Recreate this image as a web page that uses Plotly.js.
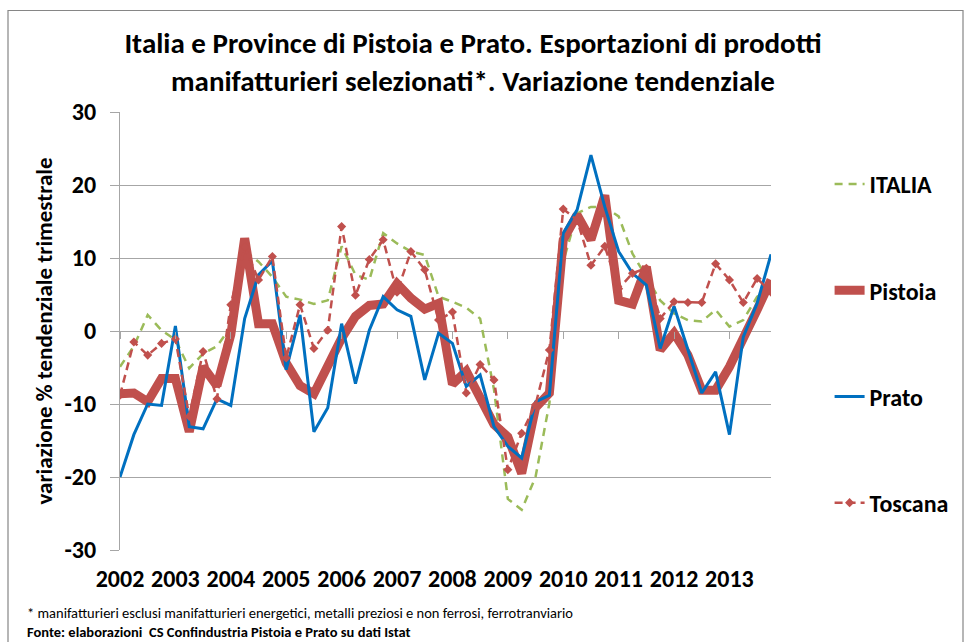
<!DOCTYPE html>
<html>
<head>
<meta charset="utf-8">
<script src="https://cdn.plot.ly/plotly-3.0.1.min.js"></script>
<style>
  html, body { margin: 0; padding: 0; background: #fff; }
  #chart { width: 972px; height: 642px; }
</style>
</head>
<body>
<div id="chart"></div>
<script>
// ---- data ----
const years = ['2002','2003','2004','2005','2006','2007','2008','2009','2010','2011','2012','2013'];
const quarterNames = ['I','II','III','IV'];
const quarters = [];
years.forEach(y => quarterNames.forEach(q => quarters.push(y + ' ' + q)));

const italia = [-4.9, -2.1, 2.2, 0.1, -1.2, -5.1, -3.1, -2.1, 0.6, 11.0, 9.5, 7.4,
                4.7, 4.3, 3.7, 4.2, 11.6, 7.7, 7.0, 13.4, 12.0, 10.9, 10.4, 4.7,
                4.0, 3.2, 1.7, -8.0, -23.0, -24.5, -20.0, -9.9, 9.5, 16.1, 17.0, 17.0,
                15.7, 10.6, 7.4, 4.2, 2.4, 1.5, 1.3, 2.9, 0.6, 1.5, 4.7, 5.6];
const pistoia = [-8.6, -8.5, -9.7, -6.5, -6.5, -13.8, -4.9, -7.5, -0.5, 12.7, 1.0, 1.0,
                 -4.4, -7.5, -8.6, -4.5, -1.0, 2.0, 3.5, 3.7, 6.5, 4.5, 3.0, 3.8,
                 -7.3, -5.5, -9.0, -12.8, -14.5, -19.5, -10.5, -8.5, 12.5, 15.9, 12.5, 18.6,
                 4.2, 3.7, 8.8, -2.6, -0.3, -3.3, -8.1, -8.1, -4.9, -1.2, 2.9, 7.0];
const prato = [-20.0, -14.2, -10.0, -10.2, 0.7, -13.1, -13.4, -9.3, -10.2, 1.7, 7.7, 9.6,
               -5.3, 2.2, -13.8, -10.5, 1.0, -7.2, 0.1, 4.7, 2.9, 2.0, -6.7, -0.3,
               -1.7, -7.6, -6.0, -13.1, -15.8, -17.4, -9.7, -8.8, 13.4, 16.6, 24.1, 17.0,
               10.9, 7.9, 6.3, -2.4, 3.4, -2.4, -8.5, -5.6, -14.2, -0.8, 3.8, 10.5];
const toscana = [-8.8, -1.5, -3.3, -1.7, -1.1, -11.7, -2.8, -9.3, 3.6, 11.5, 7.0, 10.2,
                 -3.7, 3.6, -2.4, 0.1, 14.3, 4.9, 9.8, 12.5, 5.3, 10.9, 8.4, 1.5,
                 2.6, -8.5, -4.6, -6.7, -19.0, -14.0, -10.1, -2.6, 16.7, 15.2, 9.0, 11.6,
                 5.8, 7.9, 8.6, 1.7, 4.0, 3.9, 3.9, 9.2, 7.0, 3.9, 7.2, 5.3];
const seriesNames = ['ITALIA', 'Pistoia', 'Prato', 'Toscana'];
const yTicks = [-30, -20, -10, 0, 10, 20, 30];
const yTickText = ['-30', '-20', '-10', '0', '10', '20', '30'];
const yearTickCats = years.map(y => y + ' I');

const FONT = 'Carlito, Lato, "Open Sans", sans-serif';
const RED = '#c0504d';

const traces = [
  { x: quarters, y: italia, name: seriesNames[0], type: 'scatter', mode: 'lines',
    line: { color: '#9bbb59', width: 2.5, dash: '8px,6px' }, legendgroup: 'a' },
  { x: quarters, y: pistoia, name: seriesNames[1], type: 'scatter', mode: 'lines',
    line: { color: RED, width: 9 }, legendgroup: 'b' },
  { x: quarters, y: prato, name: seriesNames[2], type: 'scatter', mode: 'lines',
    line: { color: '#0070c0', width: 3 }, legendgroup: 'c' },
  { x: quarters, y: toscana, name: seriesNames[3], type: 'scatter', mode: 'lines+markers',
    line: { color: RED, width: 2.5, dash: '8px,5px' },
    marker: { symbol: 'diamond', size: 7, color: RED }, legendgroup: 'd' },
  { x: [], y: [], xaxis: 'x2', type: 'scatter', mode: 'lines', showlegend: false, hoverinfo: 'skip' }
];

const layout = {
  width: 972, height: 642,
  margin: { l: 120, r: 201, t: 112, b: 92 },
  paper_bgcolor: '#ffffff', plot_bgcolor: '#ffffff',
  font: { family: FONT, color: '#000' },
  showlegend: true,
  title: {
    text: 'Italia e Province di Pistoia e Prato. Esportazioni di prodotti<br>manifatturieri selezionati*. Variazione tendenziale',
    font: { family: FONT, size: 29, color: '#000', weight: 'bold' },
    x: 473 / 972, xanchor: 'center', xref: 'container',
    y: 0.917, yanchor: 'top', yref: 'container'
  },
  xaxis: {
    type: 'category', categoryorder: 'array', categoryarray: quarters,
    range: [0, quarters.length - 1],
    tickmode: 'array', tickvals: yearTickCats, ticktext: years,
    showgrid: false, zeroline: false, showline: false,
    ticks: '', ticklabelstandoff: 12,
    tickfont: { family: FONT, size: 24, color: '#000', weight: 'bold' }
  },
  xaxis2: {
    type: 'category', categoryorder: 'array', categoryarray: quarters,
    matches: 'x', overlaying: 'x', anchor: 'free', position: 0.5, side: 'bottom',
    range: [0, quarters.length - 1],
    tickmode: 'array', tickvals: yearTickCats, ticktext: years,
    showticklabels: false, showgrid: false, zeroline: false, showline: false,
    ticks: 'outside', ticklen: 7, tickcolor: '#a6a6a6', tickwidth: 1
  },
  yaxis: {
    range: [-30, 30], tickmode: 'array', tickvals: yTicks, ticktext: yTickText,
    showgrid: true, gridcolor: '#a6a6a6', gridwidth: 1,
    zeroline: false, showline: true, linecolor: '#a6a6a6', linewidth: 1,
    ticks: 'outside', ticklen: 9, tickcolor: '#a6a6a6',
    ticklabelstandoff: 9,
    tickfont: { family: FONT, size: 24, color: '#000', weight: 'bold' },
    title: {
      text: 'variazione % tendenziale trimestrale',
      font: { family: FONT, size: 23, color: '#000', weight: 'bold' },
      standoff: 5
    }
  },
  legend: {
    x: 1.09, xanchor: 'left', xref: 'paper',
    y: 0.886, yanchor: 'top',
    traceorder: 'grouped', tracegroupgap: 72,
    font: { family: FONT, size: 24, color: '#000', weight: 'bold' },
    bgcolor: 'rgba(0,0,0,0)'
  },
  shapes: [
    { type: 'rect', xref: 'paper', yref: 'paper',
      x0: (8 - 120) / 651, x1: (963 - 120) / 651,
      y0: (550 - 660) / 438, y1: (550 - 10.5) / 438,
      line: { color: '#868686', width: 1.2 }, fillcolor: 'rgba(0,0,0,0)', layer: 'below' }
  ],
  annotations: [
    { text: '* manifatturieri esclusi manifatturieri energetici, metalli preziosi e non ferrosi, ferrotranviario',
      xref: 'paper', yref: 'paper', x: (25 - 120) / 651, y: (550 - 613) / 438,
      xanchor: 'left', yanchor: 'middle', showarrow: false,
      font: { family: FONT, size: 14.5, color: '#000' } },
    { text: '<b>Fonte: elaborazioni  CS Confindustria Pistoia e Prato su dati Istat</b>',
      xref: 'paper', yref: 'paper', x: (25 - 120) / 651, y: (550 - 632) / 438,
      xanchor: 'left', yanchor: 'middle', showarrow: false,
      font: { family: FONT, size: 14.5, color: '#000' } }
  ]
};

Plotly.newPlot('chart', traces, layout, { displayModeBar: false, staticPlot: true });
</script>
</body>
</html>
